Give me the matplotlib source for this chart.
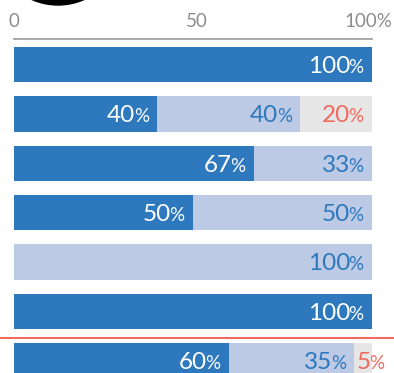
"""
Stacked 100% horizontal bars with split number/percent labels.
"""

import matplotlib.pyplot as plt
from matplotlib.patches import Circle

DARK_VALUES = [100, 40, 67, 50, 0, 100, 60]
LIGHT_VALUES = [0, 40, 33, 50, 100, 0, 35]
GRAY_VALUES = [0, 20, 0, 0, 0, 0, 5]
TICK_VALUES = [0, 50, 100]
TICK_LABELS = ["0", "50", "100%"]

DARK = "#2E78BD"
LIGHT = "#BCCAE6"
GRAY = "#E6E6E7"
RED = "#EF6B5E"

plt.rcParams["font.family"] = ["Lato", "DejaVu Sans"]

NUM_SIZE = 17.5
PCT_SIZE = 13.5


def add_label(ax, renderer, x, row, value, color, inside=True):
    """
    Put a number with a smaller percent sign next to x.
    """

    if inside:
        # right-aligned just inside the segment end
        pct = ax.annotate("%", (x, row), xytext=(-6, -6),
                          textcoords="offset points", ha="right",
                          va="baseline", fontsize=PCT_SIZE, color=color)
        width_pt = pct.get_window_extent(renderer).width * 72 / ax.figure.dpi
        ax.annotate(str(value), (x, row), xytext=(-5 - width_pt, -6),
                    textcoords="offset points", ha="right", va="baseline",
                    fontsize=NUM_SIZE, color=color)
    else:
        # too narrow: start at the segment start
        num = ax.annotate(str(value), (x, row), xytext=(1.5, -6),
                          textcoords="offset points", ha="left",
                          va="baseline", fontsize=NUM_SIZE, color=color)
        width_pt = num.get_window_extent(renderer).width * 72 / ax.figure.dpi
        ax.annotate("%", (x, row), xytext=(0.8 + width_pt, -6),
                    textcoords="offset points", ha="left", va="baseline",
                    fontsize=PCT_SIZE, color=color)


def draw_chart() -> None:

    fig = plt.figure(figsize=(3.94, 3.73), dpi=100)
    ax = fig.add_axes([14 / 394, 0, 358 / 394, 1])
    ax.set_xlim(0, 100)
    ax.set_ylim(6.25, -1.3116)
    ax.axis("off")

    rows = list(range(len(DARK_VALUES)))
    height = 0.72

    ax.barh(rows, DARK_VALUES, height=height, color=DARK, linewidth=0)
    ax.barh(rows, LIGHT_VALUES, left=DARK_VALUES, height=height,
            color=LIGHT, linewidth=0)
    lefts = [d + l for d, l in zip(DARK_VALUES, LIGHT_VALUES)]
    ax.barh(rows, GRAY_VALUES, left=lefts, height=height,
            color=GRAY, linewidth=0)

    # top axis line and tick labels
    ax.plot([0, 100], [-0.52, -0.52], color="#9A9A9A", lw=1.2,
            clip_on=False)
    aligns = ["center", "left", "center"]
    shifts = [0, -1.9, -1.0]
    for val, lab, ha, sh in zip(TICK_VALUES, TICK_LABELS, aligns, shifts):
        ax.text(val + sh, -0.77, lab, ha=ha, va="baseline", fontsize=13.5,
                color="#8C8C8C")

    # separator above the last row
    ax.plot([-5, 110], [5.541, 5.541], color=RED, lw=1.5, clip_on=False)

    # partially visible black circle at the top
    fig.patches.append(Circle((58, 373 + 60), 65, transform=None,
                              color="black"))

    fig.canvas.draw()
    renderer = fig.canvas.get_renderer()

    for row, d, l, g in zip(rows, DARK_VALUES, LIGHT_VALUES, GRAY_VALUES):
        if d > 0:
            add_label(ax, renderer, d, row, d, "white")
        if l > 0:
            add_label(ax, renderer, d + l, row, l, DARK)
        if g >= 10:
            add_label(ax, renderer, d + l + g, row, g, RED)
        elif g > 0:
            add_label(ax, renderer, d + l, row, g, RED, inside=False)

    fig.savefig("out.png", dpi=100)


if __name__ == "__main__":
    draw_chart()
